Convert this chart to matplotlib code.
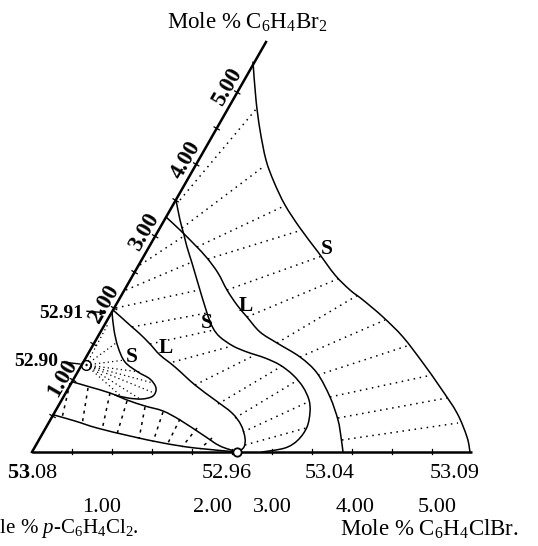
import matplotlib
matplotlib.use("Agg")
import matplotlib.pyplot as plt
import numpy as np
from matplotlib.path import Path
from matplotlib.patches import PathPatch

plt.rcParams['font.family'] = ['Liberation Serif', 'DejaVu Serif']
plt.rcParams['mathtext.fontset'] = 'custom'
plt.rcParams['mathtext.rm'] = 'Liberation Serif'
plt.rcParams['mathtext.it'] = 'Liberation Serif:italic'
plt.rcParams['mathtext.bf'] = 'Liberation Serif:bold'

# ---------------- data (diagram units, y grows downward) ----------------
corner = (32, 452)
apex = (266, 42)
base_end = 472

outer_S_x = [253, 256, 260, 266, 274, 285, 300, 318, 335, 350, 363, 383, 403, 423, 440, 457, 467, 470]
outer_S_y = [62, 100, 130, 160, 182, 205, 228, 252, 275, 290, 300, 317, 337, 363, 387, 413, 437, 452]

outer_L_x = [166, 180, 195, 207, 218, 227, 237, 247, 260, 277, 300, 317, 330, 338, 341, 343]
outer_L_y = [217, 230, 245, 258, 273, 290, 305, 317, 332, 343, 357, 373, 397, 420, 437, 452]

mid_S_x = [176, 180, 184, 187, 192, 197, 207, 213, 220, 233, 247, 265, 280, 293, 303, 309, 310, 307, 298, 285, 262]
mid_S_y = [200, 220, 235, 247, 263, 280, 313, 328, 337, 346, 352, 358, 365, 375, 387, 400, 412, 427, 440, 448, 452]

inner_L_x = [113, 122, 132, 140, 150, 160, 175, 195, 215, 232, 241, 245, 244, 238]
inner_L_y = [310, 318, 327, 334, 344, 355, 367, 385, 400, 413, 425, 438, 447, 452]

lobe_S_x = [112, 114, 118, 125, 138, 150, 156, 153, 142, 128, 115]
lobe_S_y = [312, 330, 347, 362, 372, 379, 388, 396, 399, 398, 395]

band_top_x = [73, 90, 110, 127, 145, 163, 180, 203, 220, 238]
band_top_y = [382, 387, 393, 400, 406, 411, 420, 435, 446, 452]

band_bot_x = [54, 75, 97, 130, 163, 195, 238]
band_bot_y = [415, 421, 428, 436, 443, 448, 452]

tie_outer = [((180, 200), (257, 108)), ((182, 228), (263, 167)), ((197, 247), (282, 207)),
             ((208, 259), (302, 230)), ((227, 290), (322, 256)), ((247, 317), (340, 278)),
             ((277, 343), (358, 295)), ((300, 357), (385, 320)), ((318, 375), (410, 345)),
             ((330, 397), (432, 375)), ((338, 418), (447, 398)), ((342, 440), (458, 423))]
tie_mid = [((140, 265), (184, 236)), ((126, 290), (192, 262)), ((116, 308), (199, 290)),
           ((132, 327), (207, 313)), ((150, 344), (214, 330)), ((173, 362), (232, 346)),
           ((195, 385), (255, 355)), ((218, 404), (282, 366)), ((235, 418), (298, 380)),
           ((243, 432), (308, 402)), ((245, 445), (306, 428))]
lobe_center = (86, 365)
tie_lobe_ends = [(108, 324), (116, 343), (125, 360), (140, 372), (153, 383), (154, 393), (140, 399), (122, 397)]
tie_band = [((70, 383), (62, 418)), ((88, 388), (82, 425)), ((110, 393), (102, 430)),
            ((127, 401), (117, 434)), ((145, 407), (139, 439)), ((163, 412), (153, 442)),
            ((180, 419), (167, 445)), ((197, 428), (182, 447)), ((212, 438), (200, 449))]

base_ticks = [72, 112, 152, 192, 232, 272, 312, 352, 392, 432]
edge_tick_fracs = [0.0877 * k for k in range(1, 11)]

temp_labels = [r"$\mathbf{53}$.08", "52.96", "53.04", "53.09"]
temp_x = [33, 227, 330, 455]
scale_labels = ["1.00", "2.00", "3.00", "4.00", "5.00"]
scale_x = [102, 212, 272, 355, 437]
edge_labels = ["1.00", "2.00", "3.00", "4.00", "5.00"]
edge_label_pos = [(62, 378), (104, 304), (144, 232), (186, 160), (227, 87)]
phase_labels = ["S", "L", "S", "L", "S"]
phase_pos = [(327, 249), (246, 306), (207, 323), (166, 348), (132, 357)]

# ---------------- figure ----------------
fig = plt.figure(figsize=(5.38, 5.46), dpi=100)
ax = fig.add_axes([0, 0, 1, 1])
ax.set_xlim(0, 538)
ax.set_ylim(546, 0)
ax.axis('off')


def smooth(xs, ys, lw=1.1):
    p = np.column_stack([xs, ys]).astype(float)
    n = len(p)
    verts = [p[0]]
    codes = [Path.MOVETO]
    for i in range(n - 1):
        p0 = p[i - 1] if i > 0 else p[i]
        p1, p2 = p[i], p[i + 1]
        p3 = p[i + 2] if i + 2 < n else p[i + 1]
        c1 = p1 + (p2 - p0) / 6.0
        c2 = p2 - (p3 - p1) / 6.0
        verts += [c1, c2, p2]
        codes += [Path.CURVE4] * 3
    ax.add_patch(PathPatch(Path(verts, codes), fill=False, lw=lw, color='black',
                           capstyle='round', joinstyle='round'))


# triangle edges
ax.plot([corner[0], base_end], [corner[1], corner[1]], color='black', lw=1.8, solid_capstyle='butt')
ax.plot([corner[0], apex[0]], [corner[1], apex[1]], color='black', lw=1.8)

# ticks on base and edge
for tx in base_ticks:
    ax.plot([tx, tx], [corner[1] - 3, corner[1] + 2], color='black', lw=0.9)
ev = np.array([apex[0] - corner[0], apex[1] - corner[1]], float)
nv = np.array([-ev[1], ev[0]]) / np.hypot(*ev)
for f in edge_tick_fracs:
    c = np.array(corner, float) + f * ev
    ax.plot([c[0] - 3 * nv[0], c[0] + 3 * nv[0]], [c[1] - 3 * nv[1], c[1] + 3 * nv[1]],
            color='black', lw=0.9)

# curves
smooth(outer_S_x, outer_S_y)
smooth(outer_L_x, outer_L_y)
smooth(mid_S_x, mid_S_y)
smooth(inner_L_x, inner_L_y)
smooth(lobe_S_x, lobe_S_y)
smooth(band_top_x, band_top_y)
smooth(band_bot_x, band_bot_y)

dot = dict(color='black', lw=1.1, linestyle=(0, (1, 3)))
for (a, b) in tie_outer + tie_mid:
    ax.plot([a[0], b[0]], [a[1], b[1]], **dot)
for e in tie_lobe_ends:
    ax.plot([lobe_center[0], e[0]], [lobe_center[1], e[1]], color='black', lw=0.9, linestyle=(0, (1, 2.5)))
for (a, b) in tie_band:
    ax.plot([a[0], b[0]], [a[1], b[1]], color='black', lw=1.1, linestyle=(0, (2, 3)))

# special points
ax.plot([237], [452], marker='o', ms=6, mfc='white', mec='black', mew=1.3)
ax.plot([86], [365], marker='o', ms=7, mfc='none', mec='black', mew=1.0)
ax.annotate("", xy=(109, 313), xytext=(84, 311),
            arrowprops=dict(arrowstyle='-|>', color='black', lw=1.0, mutation_scale=8))
ax.plot([62, 80], [362, 364], color='black', lw=1.0)

# text
ax.text(247, 22, r"Mole % $\mathrm{C_6H_4Br_2}$", ha='center', va='center', fontsize=16.5)
for lab, x in zip(temp_labels, temp_x):
    ax.text(x, 474, lab, ha='center', va='center', fontsize=16)
for lab, x in zip(scale_labels, scale_x):
    ax.text(x, 508, lab, ha='center', va='center', fontsize=16)
ax.text(-29, 529, r"Mole % $\mathit{p}$-$\mathrm{C_6H_4Cl_2}$.", ha='left', va='center', fontsize=15,
        clip_on=False)
ax.text(519, 529, r"Mole % $\mathrm{C_6H_4ClBr}$.", ha='right', va='center', fontsize=16.5)
for lab, (x, y) in zip(edge_labels, edge_label_pos):
    ax.text(x, y, lab, ha='center', va='center', fontsize=16.5, fontweight='bold', rotation=60,
            rotation_mode='anchor')
ax.text(61, 314, "52.91", ha='center', va='center', fontsize=14, fontweight='bold')
ax.text(36, 362, "52.90", ha='center', va='center', fontsize=14, fontweight='bold')
for lab, (x, y) in zip(phase_labels, phase_pos):
    ax.text(x, y, lab, ha='center', va='center', fontsize=15.5, fontweight='bold')

fig.savefig("out.png", dpi=100)
